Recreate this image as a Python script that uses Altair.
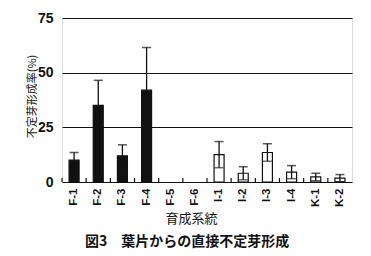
import altair as alt
import pandas as pd

categories = ["F-1", "F-2", "F-3", "F-4", "F-5", "F-6",
              "I-1", "I-2", "I-3", "I-4", "K-1", "K-2"]
rates = [10, 35, 12, 42, 0, 0, 12.5, 4, 13.5, 4.5, 2.3, 1.8]
sds = [3.5, 11.5, 5, 19.5, 0, 0, 6, 3, 4, 3, 1.7, 1.6]
groups = ["F", "F", "F", "F", "F", "F", "I", "I", "I", "I", "K", "K"]

df = pd.DataFrame({"cat": categories, "rate": rates, "sd": sds, "grp": groups})
df["hi"] = df["rate"] + df["sd"]
df["lo"] = df["rate"] - df["sd"]

W, H = 290, 164
JP = "Noto Sans CJK JP"
LAT = "Liberation Sans"

x_enc = alt.X(
    "cat:N", sort=categories,
    scale=alt.Scale(domain=categories, paddingInner=0, paddingOuter=0),
    axis=alt.Axis(
        title="育成系統", labelAngle=-90, labelFont=LAT, labelFontWeight="bold",
        labelFontSize=11.5, labelColor="#111", labelPadding=6, ticks=False,
        domain=False, grid=False,
        titleFont=JP, titleFontSize=13, titleFontWeight="normal", titleColor="#111",
        titleX=129, titleY=36, titleBaseline="middle", titleAlign="center",
    ),
)
y_scale = alt.Scale(domain=[0, 75], nice=False)

base = alt.Chart(df)

bars = base.transform_filter("datum.rate > 0").mark_bar(
    size=10, stroke="#111", strokeWidth=1.2
).encode(
    x=x_enc,
    y=alt.Y(
        "rate:Q", scale=y_scale,
        axis=alt.Axis(
            title="不定芽形成率(%)", values=[0, 25, 50, 75], ticks=False, domain=False,
            labelFont=LAT, labelFontWeight="bold", labelFontSize=14, labelColor="#111",
            labelPadding=9, grid=True, gridColor="#111", gridWidth=1,
            titleFont=JP, titleFontSize=11, titleFontWeight="normal", titleColor="#111",
            titleX=-30, titleY=78, titleAngle=-90, titleBaseline="middle", titleAlign="center",
        ),
    ),
    fill=alt.Fill("grp:N", scale=alt.Scale(domain=["F", "I", "K"],
                                           range=["#111111", "#ffffff", "#ffffff"]),
                  legend=None),
)

err_df = base.transform_filter("datum.sd > 0")
err_rule = err_df.mark_rule(color="#111", strokeWidth=1.3).encode(
    x=alt.X("cat:N", sort=categories), y=alt.Y("lo:Q", scale=y_scale), y2="hi:Q"
)
cap_hi = err_df.mark_tick(color="#111", size=9, thickness=1.5).encode(
    x=alt.X("cat:N", sort=categories), y=alt.Y("hi:Q", scale=y_scale)
)
cap_lo = err_df.mark_tick(color="#111", size=9, thickness=1.3).encode(
    x=alt.X("cat:N", sort=categories), y=alt.Y("lo:Q", scale=y_scale)
)
xticks = base.mark_rule(color="#111", strokeWidth=1.2).encode(
    x=alt.X("cat:N", sort=categories, bandPosition=0),
    y=alt.value(H - 4), y2=alt.value(H),
)

chart = alt.layer(bars, err_rule, cap_hi, cap_lo, xticks).properties(
    width=W, height=H,
    autosize=alt.AutoSizeParams(type="none"),
    padding={"left": 62, "top": 18, "right": 19, "bottom": 74},
    title=alt.TitleParams(
        "図3\u3000葉片からの直接不定芽形成", orient="bottom", anchor="start",
        font=JP, fontSize=14, fontWeight="bold", color="#111",
        frame="group", dx=23, offset=10,
    ),
).configure_view(stroke="#111", strokeWidth=1.6).configure(background="white")

chart.save("out.html", embed_options={"renderer": "svg", "actions": False})
